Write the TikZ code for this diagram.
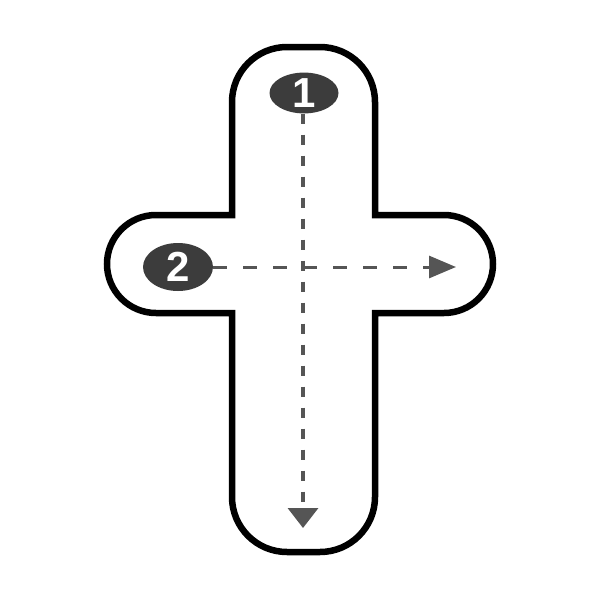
\documentclass[tikz,border=0pt]{standalone}
\usepackage{fontspec}
\setmainfont{Liberation Sans}
\usetikzlibrary{shapes.geometric,arrows.meta}
\definecolor{badge}{HTML}{3C3C3C}
\definecolor{dashc}{HTML}{555555}
\tikzset{
  outline/.style={line width=6.5pt, draw=black, fill=white, line join=miter},
  badgenode/.style={ellipse, fill=badge, text=white, inner sep=0pt,
    font=\fontsize{42}{42}\selectfont\bfseries},
  dashline/.style={draw=dashc, line width=3.5pt},
}
\begin{document}
\begin{tikzpicture}[x=1pt,y=-1pt]
\useasboundingbox (0,0) rectangle (600,600);
\draw[outline] (232,215) -- (232,102) arc (180:270:55) -- (320,47) arc (270:360:55)
  -- (375,215) -- (444,215) arc (270:450:49) -- (375,313) -- (375,497)
  arc (0:90:55) -- (287,552) arc (90:180:55) -- (232,313) -- (156,313)
  arc (90:270:49) -- cycle;
\node[badgenode, minimum width=69pt, minimum height=40pt] (n1) at (304,93) {1};
\node[badgenode, minimum width=70pt, minimum height=48pt] (n2) at (178,267) {2};
\coordinate (e1) at (303,528);
\coordinate (e2) at (456,267);
\draw[dashline, dash pattern=on 10pt off 11pt, -{Triangle[length=20pt,width=30pt]}]
  (n1.south -| e1) -- (e1);
\draw[dashline, line width=3pt, dash pattern=on 14pt off 16pt, -{Triangle[length=27pt,width=22pt]}]
  (n2.east) -- (e2);
\end{tikzpicture}
\end{document}
